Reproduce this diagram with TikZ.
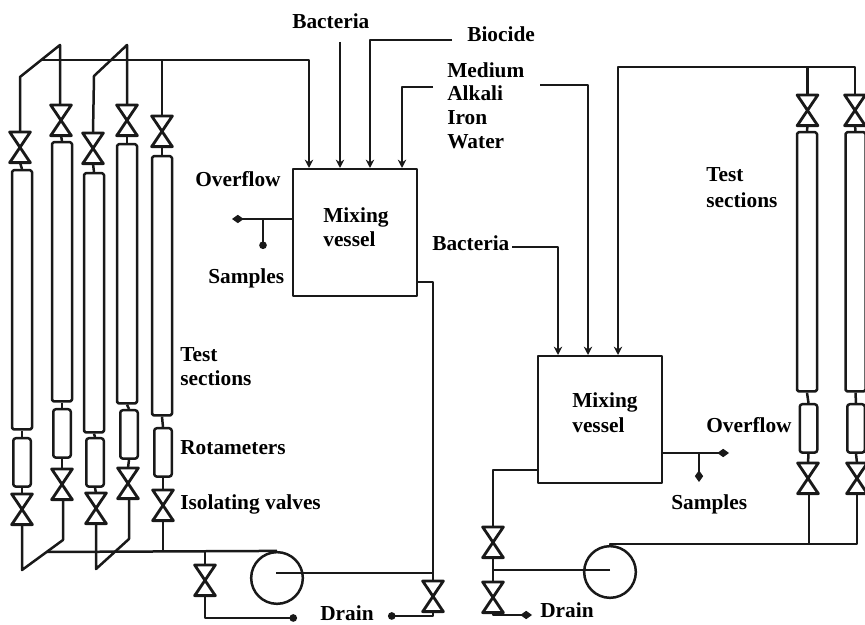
\documentclass[tikz,border=0pt]{standalone}
\usepackage{fontspec}
\setmainfont{Liberation Serif}
\usetikzlibrary{arrows.meta}
\begin{document}
\begin{tikzpicture}[
    x=0.6pt, y=-0.6pt,
    pipe/.style={draw=black!90, line width=1.5pt, line join=round},
    feed/.style={pipe, -{Stealth[length=5pt,width=5pt]}},
    dotted end/.style={pipe, -{Circle[length=4.5pt]}},
    tipped/.style={pipe, -{Diamond[length=7pt,width=5pt]}},
    tube/.style={pipe, rectangle, rounded corners=1pt, anchor=north, inner sep=0pt,
      minimum width=12pt, minimum height=155.5pt},
    meter/.style={pipe, rectangle, rounded corners=1.5pt, anchor=north, inner sep=0pt,
      minimum width=10.5pt, minimum height=29pt},
    valve/.style={rectangle, anchor=north, inner sep=0pt, minimum width=12pt, minimum height=18pt,
      append after command={\pgfextra{\draw[pipe, line width=1.7pt]
        (\tikzlastnode.north west) -- (\tikzlastnode.south east) --
        (\tikzlastnode.south west) -- (\tikzlastnode.north east) -- cycle;}}},
    vessel/.style={pipe, rectangle, inner sep=0pt, minimum width=74.5pt, minimum height=76pt},
    pump/.style={pipe, circle, inner sep=0pt, minimum size=31pt},
    lab/.style={font=\fontsize{12.8}{16}\selectfont\bfseries, inner sep=0pt, anchor=base west}]
  \useasboundingbox (0,0) rectangle (865,625);
  % left test rig, upper valves
  \node[valve] (topvalveA) at (20,132) {};
  \node[valve] (topvalveB) at (61,105) {};
  \node[valve] (topvalveC) at (93,133) {};
  \node[valve] (topvalveD) at (127,105) {};
  \node[valve] (topvalveE) at (162,116) {};
  % test sections
  \node[tube] (tubeA) at (22,169) {};
  \node[tube] (tubeB) at (62,141) {};
  \node[tube] (tubeC) at (94,172) {};
  \node[tube] (tubeD) at (127,143) {};
  \node[tube] (tubeE) at (162,155) {};
  % rotameters
  \node[meter] (meterA) at (22,437) {};
  \node[meter] (meterB) at (62,408) {};
  \node[meter] (meterC) at (95,437) {};
  \node[meter] (meterD) at (129,409) {};
  \node[meter] (meterE) at (163,427) {};
  % lower valves
  \node[valve] (lowvalveA) at (22,494) {};
  \node[valve] (lowvalveB) at (62,469) {};
  \node[valve] (lowvalveC) at (96,493) {};
  \node[valve] (lowvalveD) at (128,468) {};
  \node[valve] (lowvalveE) at (163,490) {};
  \foreach \n in {A,B,C,D,E} {
    \draw[pipe] (topvalve\n.south) -- (tube\n.north);
    \draw[pipe] (tube\n.south) -- (meter\n.north);
    \draw[pipe] (meter\n.south) -- (lowvalve\n.north);
  }
  % left manifolds
  \coordinate (bendA) at (20,77);
  \coordinate (peakA) at (60,45);
  \coordinate (bendC) at (94,76);
  \coordinate (peakC) at (127,45);
  \coordinate (hdrtop) at (41,60);
  \coordinate (inA) at (309,168);
  \draw[pipe] (topvalveA.north) -- (bendA) -- (peakA) -- (topvalveB.north -| peakA);
  \draw[pipe] (topvalveC.north) -- (bendC) -- (peakC) -- (topvalveD.north);
  \draw[feed] (hdrtop) -| (inA);
  \draw[pipe] (topvalveE.north) -- (topvalveE.north |- hdrtop);
  \coordinate (bendB) at (63,540);
  \coordinate (footA) at (22,570);
  \coordinate (bendD) at (129,539);
  \coordinate (footC) at (96,569);
  \coordinate (hdrlow) at (47,552);
  \draw[pipe] (lowvalveA.south) -- (footA) -- (bendB) -- (lowvalveB.south -| bendB);
  \draw[pipe] (lowvalveC.south) -- (footC) -- (bendD) -- (lowvalveD.south -| bendD);
  % first vessel and pump
  \node[vessel] (vesselA) at (355,232.5) {};
  \node[pump] (pumpA) at (277,578) {};
  \node[valve] (drainvalveA) at (205,565) {};
  \node[valve] (drainvalveB) at (433,581) {};
  \coordinate (outA) at (417,282);
  \coordinate (hubA) at (276,573);
  \coordinate (joinA) at (433,573);
  \coordinate (drainA) at (297,618);
  \coordinate (drainB) at (388,616);
  \draw[pipe] (hdrlow) -- (pumpA.north);
  \draw[pipe] (lowvalveE.south) -- (lowvalveE.south |- hdrlow);
  \draw[pipe] (drainvalveA.north) -- (drainvalveA.north |- hdrlow);
  \draw[pipe] (outA) -| (drainvalveB.north);
  \draw[pipe] (hubA) -- (joinA);
  \draw[dotted end] (drainvalveA.south) |- (drainA);
  \draw[dotted end] (drainvalveB.south) |- (drainB);
  % first vessel feeds
  \coordinate (srcB) at (340,42);
  \coordinate (inB) at (340,168);
  \coordinate (srcC) at (452,40);
  \coordinate (inC) at (370,168);
  \coordinate (srcD) at (433,87);
  \coordinate (inD) at (402,168);
  \draw[feed] (srcB) -- (inB);
  \draw[feed] (srcC) -| (inC);
  \draw[feed] (srcD) -| (inD);
  % first overflow
  \coordinate (overA) at (293,219);
  \coordinate (overtipA) at (232,219);
  \coordinate (branchA) at (263,219);
  \coordinate (sampleA) at (263,249);
  \draw[tipped] (overA) -- (overtipA);
  \draw[dotted end] (branchA) -- (sampleA);
  % second vessel and pump
  \node[vessel] (vesselB) at (600,419.5) {};
  \node[pump] (pumpB) at (610,572) {};
  \node[valve] (drainvalveC) at (493,527) {};
  \node[valve] (drainvalveD) at (493,582) {};
  \coordinate (outB) at (537,470);
  \coordinate (hubB) at (610,570);
  \coordinate (joinB) at (493,570);
  \coordinate (drainC) at (532,615);
  \draw[pipe] (outB) -| (drainvalveC.north);
  \draw[pipe] (drainvalveC.south) -- (drainvalveD.north);
  \draw[pipe] (hubB) -- (joinB);
  \draw[tipped] (drainvalveD.south) |- (drainC);
  % second vessel feeds
  \coordinate (srcE) at (512,247);
  \coordinate (inE) at (558,355);
  \coordinate (srcF) at (540,85);
  \coordinate (inF) at (588,355);
  \coordinate (inG) at (618,355);
  \draw[feed] (srcE) -| (inE);
  \draw[feed] (srcF) -| (inF);
  % second overflow
  \coordinate (overB) at (663,453);
  \coordinate (overtipB) at (729,453);
  \coordinate (branchB) at (699,453);
  \coordinate (sampleB) at (699,482);
  \draw[tipped] (overB) -- (overtipB);
  \draw[tipped] (branchB) -- (sampleB);
  % right test rig
  \node[valve] (topvalveF) at (807.5,95) {};
  \node[valve] (topvalveG) at (855,95) {};
  \node[tube] (tubeF) at (807,131) {};
  \node[tube] (tubeG) at (855.5,131) {};
  \node[meter] (meterF) at (808.5,403) {};
  \node[meter] (meterG) at (856,403) {};
  \node[valve] (lowvalveF) at (808,463) {};
  \node[valve] (lowvalveG) at (857,463) {};
  \foreach \n in {F,G} {
    \draw[pipe] (topvalve\n.south) -- (tube\n.north);
    \draw[pipe] (tube\n.south) -- (meter\n.north);
    \draw[pipe] (meter\n.south) -- (lowvalve\n.north);
  }
  \coordinate (hdrtopB) at (807.5,67);
  \coordinate (hdrlowB) at (809,544);
  \draw[feed] (topvalveG.north) |- (hdrtopB) -| (inG);
  \draw[pipe] (topvalveF.north) -- (hdrtopB);
  \draw[pipe] (lowvalveG.south) |- (hdrlowB) -- (lowvalveF.south -| hdrlowB);
  \draw[pipe] (hdrlowB) -| (pumpB.north);
  % labels
  \node[lab] (lblBacteriaA) at (292,29) {Bacteria};
  \node[lab] (lblBiocide) at (467,42) {Biocide};
  \node[lab] (lblMedium) at (447,78) {Medium};
  \node[lab] (lblAlkali) at (447,101) {Alkali};
  \node[lab] (lblIron) at (447,125) {Iron};
  \node[lab] (lblWater) at (447,149) {Water};
  \node[lab] (lblMixA) at (323,223) {Mixing};
  \node[lab] (lblVesselA) at (323,247) {vessel};
  \node[lab] (lblOverA) at (195,187) {Overflow};
  \node[lab] (lblSamplesA) at (208,284) {Samples};
  \node[lab] (lblTestA) at (180,362) {Test};
  \node[lab] (lblSectionsA) at (180,386) {sections};
  \node[lab] (lblRota) at (180,455) {Rotameters};
  \node[lab] (lblIso) at (180,510) {Isolating valves};
  \node[lab] (lblDrainA) at (320,621) {Drain};
  \node[lab] (lblBacteriaB) at (432,251) {Bacteria};
  \node[lab] (lblTestB) at (706,182) {Test};
  \node[lab] (lblSectionsB) at (706,208) {sections};
  \node[lab] (lblMixB) at (572,408) {Mixing};
  \node[lab] (lblVesselB) at (572,433) {vessel};
  \node[lab] (lblOverB) at (706,433) {Overflow};
  \node[lab] (lblSamplesB) at (671,510) {Samples};
  \node[lab] (lblDrainB) at (540,618) {Drain};
\end{tikzpicture}
\end{document}
